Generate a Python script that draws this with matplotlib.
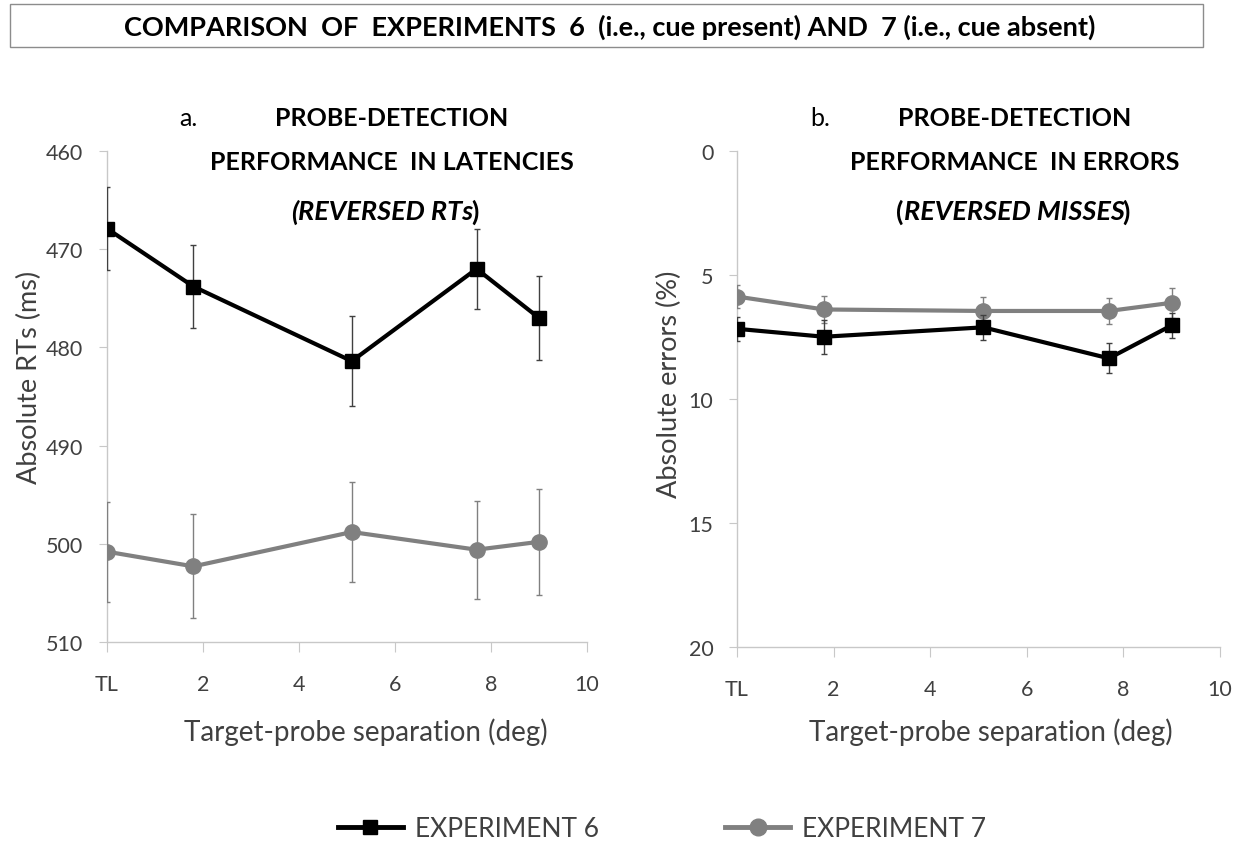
import matplotlib
matplotlib.use("Agg")
import matplotlib.pyplot as plt
from matplotlib.patches import Rectangle
from matplotlib.lines import Line2D

plt.rcParams['font.family'] = ['Lato', 'DejaVu Sans']

# target-probe separation (deg); first point is TL
sep = [0, 1.8, 5.1, 7.7, 9.0]
xticks = [0, 2, 4, 6, 8, 10]
xticklabels = ["TL", "2", "4", "6", "8", "10"]

# panel a: RTs (ms)
rt_exp6 = [467.9, 473.8, 481.4, 472.0, 477.0]
rt_exp6_err = [4.2, 4.2, 4.6, 4.1, 4.3]
rt_exp7 = [500.8, 502.3, 498.8, 500.6, 499.8]
rt_exp7_err = [5.1, 5.3, 5.1, 5.0, 5.4]

# panel b: errors (%)
err_exp6 = [7.17, 7.49, 7.11, 8.36, 7.03]
err_exp6_err = [0.48, 0.68, 0.5, 0.6, 0.5]
err_exp7 = [5.87, 6.39, 6.45, 6.45, 6.12]
err_exp7_err = [0.45, 0.55, 0.55, 0.54, 0.6]

W, H = 1248, 845
fig = plt.figure(figsize=(W / 100, H / 100), dpi=100)


def fx(px):
    return px / W


def fy(py):
    return 1 - py / H


# title box
fig.patches.append(Rectangle((fx(10), fy(48)), fx(1203) - fx(10), fy(5) - fy(48),
                             transform=fig.transFigure, fill=False, ec="#8c8c8c", lw=1))
fig.text(fx(610), fy(27), "COMPARISON  OF  EXPERIMENTS  6  (i.e., cue present) AND  7 (i.e., cue absent)",
         ha="center", va="center", fontsize=19.5, fontweight="bold")

BLACK = "#000000"
GRAY = "#808080"
TXT = "#404040"


def style_axes(ax):
    for s in ["top", "right"]:
        ax.spines[s].set_visible(False)
    for s in ["left", "bottom"]:
        ax.spines[s].set_color("#c8c8c8")
        ax.spines[s].set_linewidth(1)
    ax.tick_params(axis="both", colors="#c8c8c8", labelcolor=TXT, labelsize=15.5, length=6)
    ax.tick_params(axis="y", pad=11)
    ax.tick_params(axis="x", length=7, pad=16)
    ax.set_xlim(0, 10)
    ax.set_xticks(xticks)
    ax.set_xticklabels(xticklabels)
    ax.set_xlabel("Target-probe separation (deg)", fontsize=20, color=TXT)


def plot_series(ax, y6, e6, y7, e7):
    ax.errorbar(sep, y7, yerr=e7, color=GRAY, lw=3, marker="o", ms=11,
                ecolor=GRAY, elinewidth=1, capsize=2, zorder=3)
    ax.errorbar(sep, y6, yerr=e6, color=BLACK, lw=3, marker="s", ms=10,
                ecolor="#404040", elinewidth=1, capsize=2, zorder=4)


ax1 = fig.add_axes([fx(107), fy(643), fx(587) - fx(107), fy(152) - fy(643)])
plot_series(ax1, rt_exp6, rt_exp6_err, rt_exp7, rt_exp7_err)
ax1.set_ylim(510, 460)
ax1.set_yticks([460, 470, 480, 490, 500, 510])
style_axes(ax1)
ax1.set_ylabel("Absolute RTs (ms)", fontsize=19.5, color=TXT)
ax1.xaxis.set_label_coords(0.54, -0.153)
ax1.yaxis.set_label_coords(-0.135, 0.54)

ax2 = fig.add_axes([fx(737), fy(648), fx(1220) - fx(737), fy(152) - fy(648)])
plot_series(ax2, err_exp6, err_exp6_err, err_exp7, err_exp7_err)
ax2.set_ylim(20, 0)
ax2.set_yticks([0, 5, 10, 15, 20])
style_axes(ax2)
ax2.set_ylabel("Absolute errors (%)", fontsize=19.5, color=TXT)
ax2.xaxis.set_label_coords(0.526, -0.141)
ax2.yaxis.set_label_coords(-0.114, 0.532)

TS = 18


def panel_title(letter, lx, cx, line2, italic_part, ital_open, cx3):
    fig.text(fx(lx), fy(118), letter, ha="center", va="center", fontsize=TS)
    fig.text(fx(cx), fy(118), "PROBE-DETECTION", ha="center", va="center", fontsize=TS, fontweight="bold")
    fig.text(fx(cx), fy(162), line2, ha="center", va="center", fontsize=TS, fontweight="bold")
    # third line: mixed upright / italic pieces chained together
    mid = fig.text(fx(cx3), fy(212), italic_part, ha="center", va="center", fontsize=TS + 1.5,
                   fontweight="bold", fontstyle="italic")
    fig.canvas.draw()
    bb = mid.get_window_extent()
    fig.text(bb.x0 / W, fy(212), "(", ha="right", va="center", fontsize=TS + 1.5, fontweight="bold",
             fontstyle="italic" if ital_open else "normal")
    fig.text((bb.x1 - 2) / W, fy(212), ")", ha="left", va="center", fontsize=TS + 1.5, fontweight="bold")


panel_title("a.", 188, 392, "PERFORMANCE  IN LATENCIES", "REVERSED RTs", True, 386)
panel_title("b.", 820, 1015, "PERFORMANCE  IN ERRORS", "REVERSED MISSES", False, 1014)

# legend along the bottom (line + marker only, no error bars)
handles = [Line2D([], [], color=BLACK, lw=3.5, marker="s", ms=10),
           Line2D([], [], color=GRAY, lw=3.5, marker="o", ms=12)]
fig.legend(handles, ["EXPERIMENT 6", "EXPERIMENT 7"], loc="center", bbox_to_anchor=(fx(662), fy(830)),
           ncol=2, frameon=False, fontsize=19, columnspacing=4.8, handlelength=2.45, handletextpad=0.45,
           labelcolor=TXT)

fig.savefig("out.png", dpi=100)
